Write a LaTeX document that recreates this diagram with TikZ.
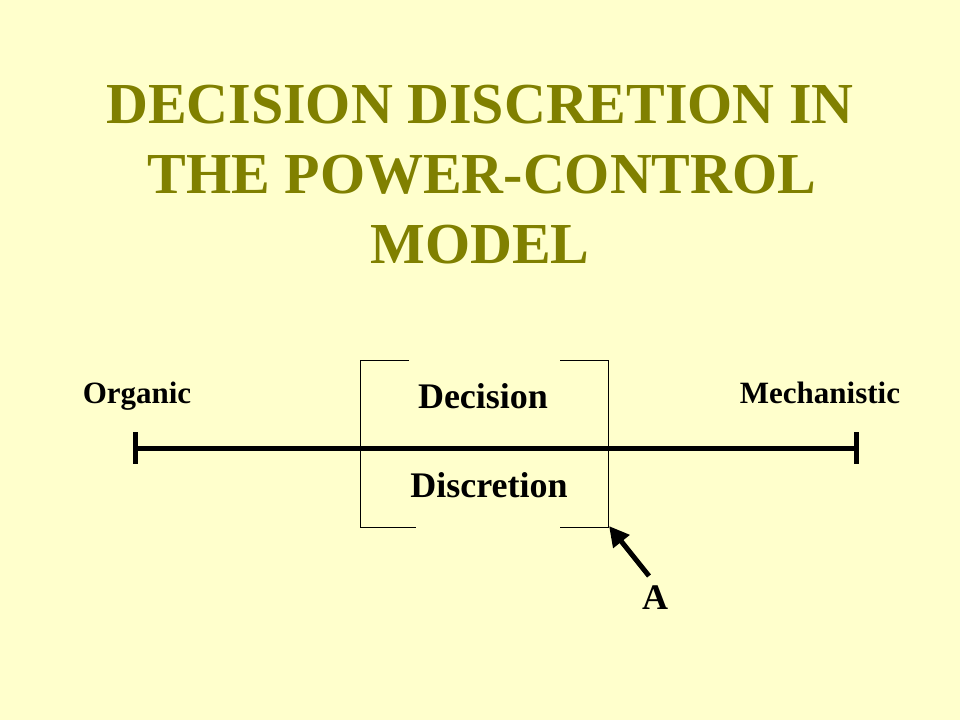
\documentclass[tikz,border=0pt]{standalone}
\usepackage{fontspec}
\setmainfont{Liberation Serif}
\usetikzlibrary{arrows.meta}
\definecolor{bgyellow}{HTML}{FFFFCC}
\definecolor{titleolive}{HTML}{808000}
\begin{document}
\begin{tikzpicture}[x=1pt,y=-1pt,
  titletext/.style={anchor=base,inner sep=0pt,text=titleolive,font=\fontsize{58}{70}\selectfont\bfseries},
  labeltext/.style={anchor=base,inner sep=0pt,font=\fontsize{31}{34}\selectfont\bfseries},
  boxtext/.style={anchor=base,inner sep=0pt,font=\fontsize{36}{40}\selectfont\bfseries},
  axis/.style={line width=5pt},
  bracket/.style={line width=1pt},
  pointer/.style={line width=5pt,-{Triangle[length=20pt,width=20pt]}}]
\fill[bgyellow] (0,0) rectangle (960,720);
\useasboundingbox (0,0) rectangle (960,720);
% title
\node[titletext] (t1) at (480,123) {DECISION DISCRETION IN};
\node[titletext] (t2) at (482,193) {THE POWER-CONTROL};
\node[titletext] (t3) at (480,263) {MODEL};
% axis
\coordinate (leftend) at (135,448);
\coordinate (rightend) at (856,448);
\draw[axis] (leftend) -- (rightend);
\draw[axis] (135,432) -- (135,464);
\draw[axis] (856,432) -- (856,464);
\node[labeltext] (organic) at (137,403) {Organic};
\node[labeltext] (mech) at (820,403) {Mechanistic};
% brackets
\coordinate (corner) at (608,527);
\draw[bracket] (409,360) -- (360,360) -- (360,527) -- (416,527);
\draw[bracket] (560,360) -- (608,360) -- (corner) -- (560,527);
\node[boxtext] (decision) at (483,408) {Decision};
\node[boxtext] (discretion) at (489,497) {Discretion};
% pointer
\node[boxtext] (A) at (655,609) {A};
\coordinate (tail) at (649,576);
\draw[pointer] (tail) -- ([xshift=1pt,yshift=1pt]corner);
\end{tikzpicture}
\end{document}
